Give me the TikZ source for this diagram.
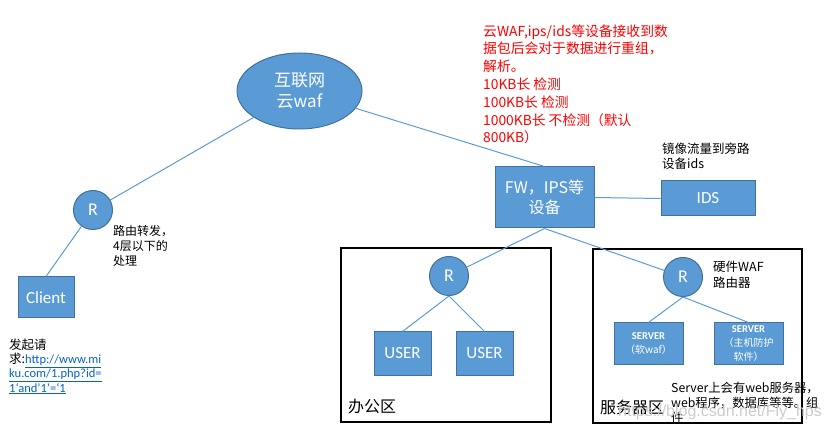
\documentclass[tikz,border=0pt]{standalone}
\usepackage{fontspec}
\usetikzlibrary{shapes.geometric}
\setmainfont{Carlito}
\newfontfamily\cjk{Noto Sans CJK SC}
\newfontfamily\wmfont{Liberation Sans}
\definecolor{fillb}{HTML}{5B9BD5}
\definecolor{edgeb}{HTML}{41719C}
\definecolor{urlb}{HTML}{0563C1}
\definecolor{redtxt}{HTML}{FF0000}
\newcommand{\urlpart}[1]{\textcolor{urlb}{\underline{\normalfont\fontsize{12.5}{14}\selectfont #1}}}
\newcommand{\srvword}{{\normalfont\bfseries\fontsize{10.5}{10.5}\selectfont SERVER}}
\begin{document}
\begin{tikzpicture}[x=1pt,y=-1pt,
  bluebox/.style={draw=edgeb, fill=fillb, line width=1pt, text=white, inner sep=0pt, align=center},
  router/.style={bluebox, circle, minimum size=39pt, font=\fontsize{18}{18}\selectfont},
  conn/.style={draw=fillb, line width=1pt},
  region/.style={draw=black, line width=1.2pt},
  note/.style={anchor=base west, inner sep=0pt, align=left, text=black}
]
\useasboundingbox (0,0) rectangle (830,430);

% regions
\draw[region] (341,248) rectangle (551,422);
\draw[region] (593,249) rectangle (802,423);

% nodes
\node[bluebox, ellipse, minimum width=125pt, minimum height=76pt,
      font=\cjk\fontsize{17}{21}\selectfont] (cloud) at (299.5,91) {互联网\\云waf};
\node[router] (r1) at (93,210) {R};
\node[bluebox, minimum width=56pt, minimum height=41pt, font=\fontsize{17}{17}\selectfont] (client) at (46,297.5) {Client};
\node[bluebox, minimum width=99pt, minimum height=61pt, font=\cjk\fontsize{16}{20}\selectfont] (fw) at (544.5,197.5) {FW，IPS等\\设备};
\node[bluebox, minimum width=94pt, minimum height=35pt, font=\fontsize{17}{17}\selectfont] (ids) at (708,198.5) {IDS};
\node[router] (r2) at (449,276) {R};
\node[bluebox, minimum width=57pt, minimum height=43pt, font=\fontsize{17}{17}\selectfont] (u1) at (402.5,353.5) {USER};
\node[bluebox, minimum width=57pt, minimum height=43pt, font=\fontsize{17}{17}\selectfont] (u2) at (484.5,353.5) {USER};
\node[router] (r3) at (683,277) {R};
\node[bluebox, minimum width=69pt, minimum height=41pt, font=\cjk\fontsize{10}{14}\selectfont] (s1) at (648.5,343.5) {\srvword\\（软waf）};
\node[bluebox, minimum width=69pt, minimum height=41pt, font=\cjk\fontsize{10}{14}\selectfont] (s2) at (748.5,343.5) {\srvword\\（主机防护\\软件）};

% connectors
\draw[conn] (cloud) -- (r1);
\draw[conn] (r1) -- (client.north);
\draw[conn] (cloud) -- (fw.north);
\draw[conn] (fw.east) -- (ids.west);
\draw[conn] (fw.south) -- (r2);
\draw[conn] (fw.south) -- (r3);
\draw[conn] (r2.south) -- (u1.north);
\draw[conn] (r2.south) -- (u2.north);
\draw[conn] (r3.south) -- (s1.north);
\draw[conn] (r3.south) -- (s2.north);

% texts (anchor = baseline of the last line)
\node[note, text=redtxt, font=\cjk\fontsize{13.8}{17.8}\selectfont] (redn) at (483,143)
  {云WAF,ips/ids等设备接收到数\\据包后会对于数据进行重组，\\解析。\\10KB长 检测\\100KB长 检测\\1000KB长 不检测（默认\\800KB）};
\node[note, font=\cjk\fontsize{12}{15}\selectfont] (routen) at (113,266) {路由转发，\\4层以下的\\处理};
\node[note, font=\cjk\fontsize{12.5}{14.2}\selectfont] (reqn) at (9,392)
  {发起请\\求:\urlpart{http://www.mi}\\\urlpart{ku.com/1.php?id=}\\\urlpart{1‘and’1’=‘1}};
\node[note, font=\cjk\fontsize{12.5}{15}\selectfont] (mirn) at (662,169) {镜像流量到旁路\\设备ids};
\node[note, font=\cjk\fontsize{12.5}{16}\selectfont] (hwn) at (713,288) {硬件WAF\\路由器};
\node[note, font=\cjk\fontsize{16}{16}\selectfont] (offn) at (348,412) {办公区};
\node[note, font=\cjk\fontsize{16}{16}\selectfont] (srvn) at (600,413) {服务器区};
\node[note, font=\cjk\fontsize{12.3}{15}\selectfont] (srvtxt) at (671,422) {Server上会有web服务器，\\web程序，数据库等等。组\\件};
\node[anchor=center, inner sep=0pt, text=black!20, font=\wmfont\fontsize{16}{16}\selectfont] (wm) at (720,412) {https://blog.csdn.net/Fly\_hps};
\end{tikzpicture}
\end{document}
